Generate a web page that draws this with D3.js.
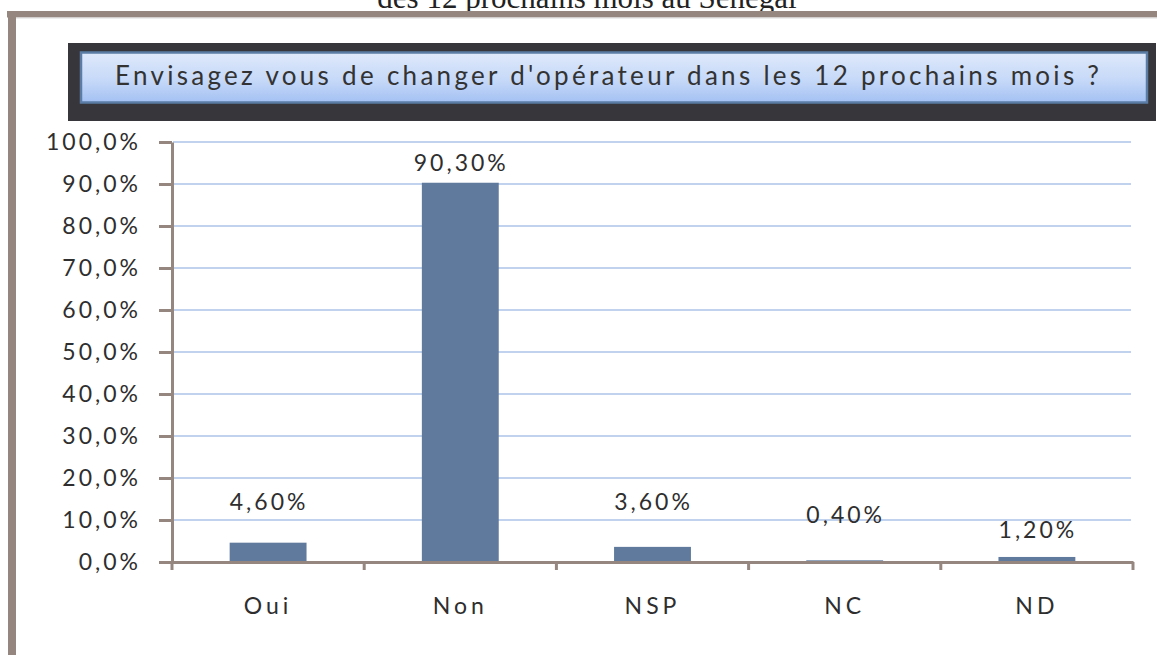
<!DOCTYPE html>
<html>
<head>
<meta charset="utf-8">
<script src="https://cdn.jsdelivr.net/npm/d3@7"></script>
<style>
  body { margin: 0; background: #fff; }
  svg { display: block; font-family: Lato, "Open Sans", sans-serif; }
</style>
</head>
<body>
<div id="chart"></div>
<script>

// data
var categories = ["Oui", "Non", "NSP", "NC", "ND"];
var values = [4.6, 90.3, 3.6, 0.4, 1.2];
var yTicks = [0, 10, 20, 30, 40, 50, 60, 70, 80, 90, 100];
var titleText = "Envisagez vous de changer d'opérateur dans les 12 prochains mois ?";
var captionText = "des 12 prochains mois au Sénégal";

// how far each value label sits above its bar (the source is uneven)
var labelLift = [41, 20, 45, 46, 27];

var width = 1157, height = 655;
var frameColor = "#968680",
    barColor = "#5f7a9c",
    gridColor = "#adc3ea",
    textColor = "#2e2e2e";

var fr = d3.formatLocale({decimal: ",", thousands: " ", grouping: [3], currency: ["", " €"]});
var fmtTick = fr.format(".1f"),
    fmtLabel = fr.format(".2f");

var svg = d3.select("#chart").append("svg")
  .attr("width", width)
  .attr("height", height);

svg.append("rect")
  .attr("width", width)
  .attr("height", height)
  .attr("fill", "#fff");

// caption, cut off at the top of the page as in the source
svg.append("text")
  .attr("x", 587)
  .attr("y", 7.5)
  .attr("text-anchor", "middle")
  .style("font-family", "'Liberation Serif', 'DejaVu Serif', serif")
  .style("font-size", "31px")
  .attr("fill", "#222")
  .text(captionText);

// brown frame
svg.append("rect")
  .attr("x", 7).attr("y", 11)
  .attr("width", width - 7).attr("height", 6.5)
  .attr("fill", frameColor);
svg.append("line")
  .attr("x1", 16).attr("x2", width)
  .attr("y1", 18).attr("y2", 18)
  .attr("stroke", "#dcdcdc");
svg.append("rect")
  .attr("x", 8).attr("y", 11)
  .attr("width", 8).attr("height", height - 11)
  .attr("fill", frameColor);

// title banner
var defs = svg.append("defs");
var grad = defs.append("linearGradient")
  .attr("id", "titleGrad")
  .attr("x1", 0).attr("y1", 0).attr("x2", 0).attr("y2", 1);
grad.append("stop").attr("offset", "0%").attr("stop-color", "#dfe9fb");
grad.append("stop").attr("offset", "55%").attr("stop-color", "#c6d9f8");
grad.append("stop").attr("offset", "100%").attr("stop-color", "#a4c1f3");

svg.append("rect")
  .attr("x", 68).attr("y", 43)
  .attr("width", 1088).attr("height", 78)
  .attr("fill", "#37363b");

svg.append("rect")
  .attr("x", 81).attr("y", 52.5)
  .attr("width", 1066).attr("height", 50)
  .attr("fill", "url(#titleGrad)")
  .attr("stroke", "#5a7ca5")
  .attr("stroke-width", 2.5);

svg.append("text")
  .attr("x", 115)
  .attr("y", 85)
  .attr("textLength", 984)
  .attr("lengthAdjust", "spacing")
  .style("font-size", "26px")
  .attr("fill", "#333")
  .text(titleText);

// scales
var x = d3.scaleBand()
  .domain(categories)
  .range([172, 1133])
  .paddingInner(0.6)
  .paddingOuter(0.3);

var y = d3.scaleLinear()
  .domain([0, 100])
  .range([562, 142]);

// gridlines
svg.append("g")
  .selectAll("line")
  .data(yTicks.filter(function(d){ return d > 0; }))
  .enter().append("line")
  .attr("x1", 173)
  .attr("x2", 1131)
  .attr("y1", function(d){ return y(d); })
  .attr("y2", function(d){ return y(d); })
  .attr("stroke", gridColor)
  .attr("stroke-width", 1.6);

// bars
svg.append("g")
  .selectAll("rect")
  .data(values)
  .enter().append("rect")
  .attr("x", function(d, i){ return x(categories[i]); })
  .attr("y", function(d){ return y(d); })
  .attr("width", x.bandwidth())
  .attr("height", function(d){ return y(0) - y(d); })
  .attr("fill", barColor);

// value labels
svg.append("g")
  .selectAll("text")
  .data(values)
  .enter().append("text")
  .attr("x", function(d, i){ return x(categories[i]) + x.bandwidth() / 2 + 1; })
  .attr("y", function(d, i){ return y(d) - labelLift[i]; })
  .attr("dy", "0.36em")
  .attr("text-anchor", "middle")
  .style("font-size", "23px")
  .style("letter-spacing", "3px")
  .attr("fill", textColor)
  .text(function(d){ return fmtLabel(d) + "%"; });

// y axis
var yAxis = d3.axisLeft(y)
  .tickValues(yTicks)
  .tickSize(13)
  .tickSizeOuter(0)
  .tickPadding(18)
  .tickFormat(function(d){ return fmtTick(d) + "%"; });

var gy = svg.append("g")
  .attr("transform", "translate(172, 0)")
  .call(yAxis);

gy.selectAll("path, line")
  .attr("stroke", frameColor)
  .attr("stroke-width", 3);
gy.selectAll("text")
  .attr("fill", textColor)
  .style("font-size", "23px")
  .style("font-family", "Lato, sans-serif")
  .style("letter-spacing", "3px");

// x axis: labels from the axis, ticks on category boundaries
var xAxis = d3.axisBottom(x)
  .tickSize(0)
  .tickSizeOuter(0)
  .tickPadding(36);

var gx = svg.append("g")
  .attr("transform", "translate(0, 562)")
  .call(xAxis);

gx.select(".domain")
  .attr("stroke", frameColor)
  .attr("stroke-width", 3);
gx.selectAll("text")
  .attr("fill", textColor)
  .style("font-size", "23px")
  .style("font-family", "Lato, sans-serif")
  .style("letter-spacing", "4px");

gx.append("g")
  .selectAll("line")
  .data(d3.range(categories.length + 1))
  .enter().append("line")
  .attr("x1", function(i){ return x.range()[0] + i * x.step(); })
  .attr("x2", function(i){ return x.range()[0] + i * x.step(); })
  .attr("y1", 0)
  .attr("y2", 8)
  .attr("stroke", frameColor)
  .attr("stroke-width", 3);

</script>
</body>
</html>
